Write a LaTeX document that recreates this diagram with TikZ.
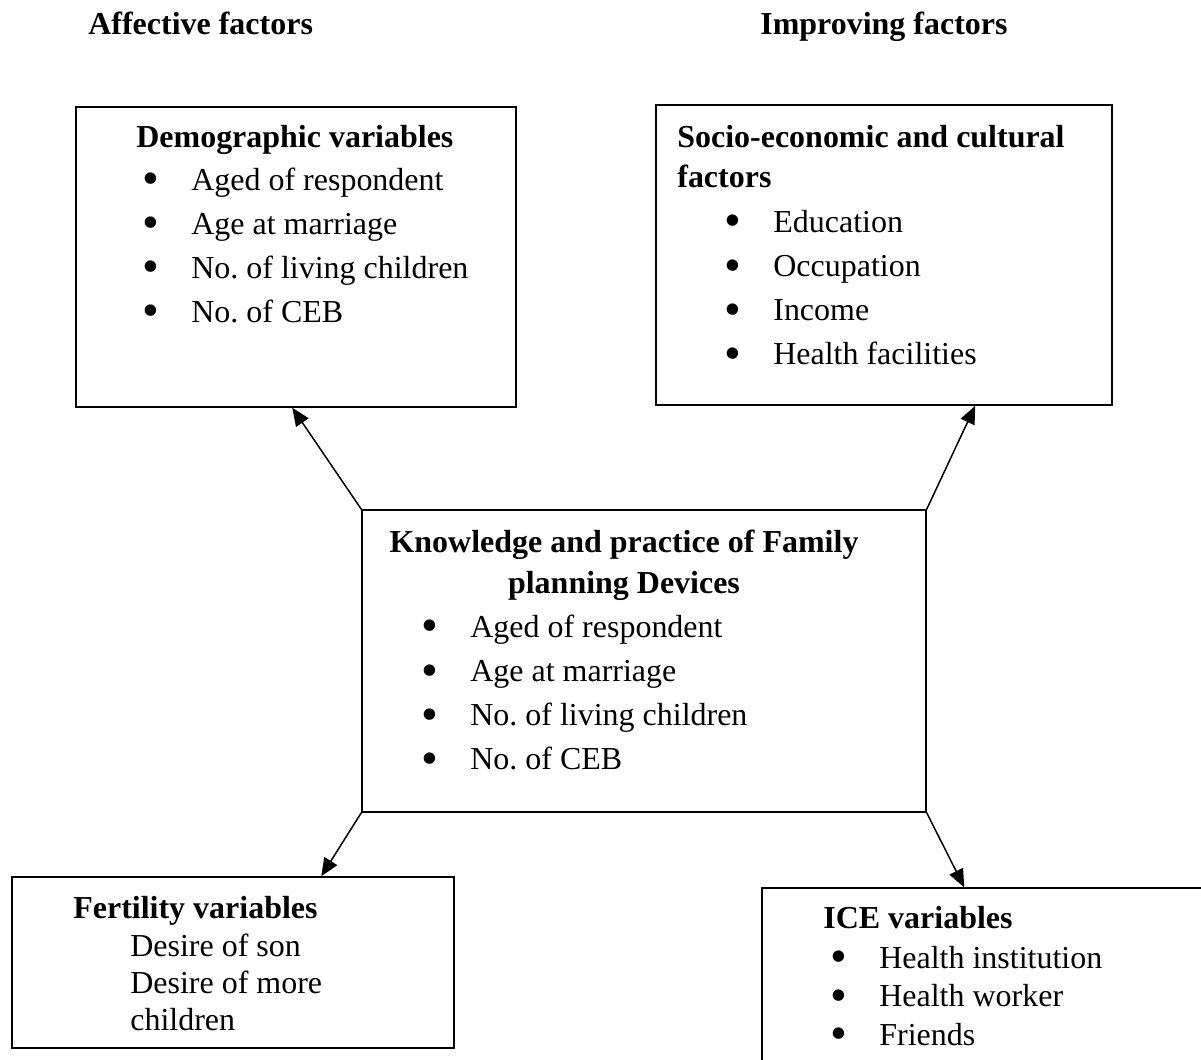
\documentclass[tikz,border=0pt]{standalone}
\usepackage{fontspec}
\setmainfont{Liberation Serif}
\usetikzlibrary{arrows.meta, positioning}

\begin{document}
\frenchspacing
\begin{tikzpicture}[
  x=0.02cm, y=-0.02cm,
  font=\fontsize{18.2}{25}\selectfont,
  box/.style={draw=black, line width=0.85pt, inner sep=0pt},
  head/.style={anchor=base west, inner sep=0pt, font=\fontsize{18.2}{25}\selectfont\bfseries},
  line/.style={anchor=base west, inner sep=0pt},
  item/.style={line, execute at begin node={\llap{\raisebox{-0.15em}{\scalebox{1.5}{\textbullet}}\hspace{0.64cm}}}},
  arrow/.style={-{Triangle[length=0.36cm, width=0.3cm]}, line width=0.85pt, draw=black}
]

\clip (0,0) rectangle (1201,1059);

% Headings at top
\node[head] (aff) at (88, 34) {Affective factors};
\node[head] (imp) at (760, 34) {Improving factors};

% === BOXES ===
\node[box, minimum width=8.8cm, minimum height=6cm] (demo) at (296, 257) {};
\node[box, minimum width=9.12cm, minimum height=6cm] (socio) at (884, 255) {};
\node[box, minimum width=11.28cm, minimum height=6.04cm] (know) at (644, 661) {};
\node[box, minimum width=8.84cm, minimum height=3.42cm] (fert) at (233, 962.5) {};
\node[box, minimum width=10cm, minimum height=4.4cm] (ice) at (1012, 998) {};

% === DEMOGRAPHIC ===
\node[head] (demo-t) at (136, 147) {Demographic variables};
\foreach \t [count=\i from 0] in {Aged of respondent, Age at marriage, No. of living children, No. of CEB}
  \node[item] (demo-\i) at (191, 190+44*\i) {\t};

% === SOCIO-ECONOMIC ===
\node[head] (socio-t1) at (677, 147) {Socio-economic and cultural};
\node[head] (socio-t2) at (677, 187) {factors};
\foreach \t [count=\i from 0] in {Education, Occupation, Income, Health facilities}
  \node[item] (socio-\i) at (773, 232+44.3*\i) {\t};

% === KNOWLEDGE AND PRACTICE ===
\node[head, anchor=base] (know-t1) at (624, 552) {Knowledge and practice of Family};
\node[head, anchor=base] (know-t2) at (624, 593) {planning Devices};
\foreach \t [count=\i from 0] in {Aged of respondent, Age at marriage, No. of living children, No. of CEB}
  \node[item] (know-\i) at (470, 637+44.3*\i) {\t};

% === FERTILITY ===
\node[head] (fert-t) at (73, 918) {Fertility variables};
\foreach \t [count=\i from 0] in {Desire of son, Desire of more, children}
  \node[line] (fert-\i) at (130, 956+37*\i) {\t};

% === ICE ===
\node[head] (ice-t) at (823, 928) {ICE variables};
\foreach \t [count=\i from 0] in {Health institution, Health worker, Friends}
  \node[item] (ice-\i) at (879, 968+38.5*\i) {\t};

% === ARROWS ===
\draw[arrow] (know.north west) -- ([xshift=4.34cm]demo.south west);
\draw[arrow] (know.north east) -- ([xshift=6.4cm]socio.south west);
\draw[arrow] (know.south west) -- ([xshift=6.2cm]fert.north west);
\draw[arrow] (know.south east) -- ([xshift=4.06cm]ice.north west);

\end{tikzpicture}
\end{document}
